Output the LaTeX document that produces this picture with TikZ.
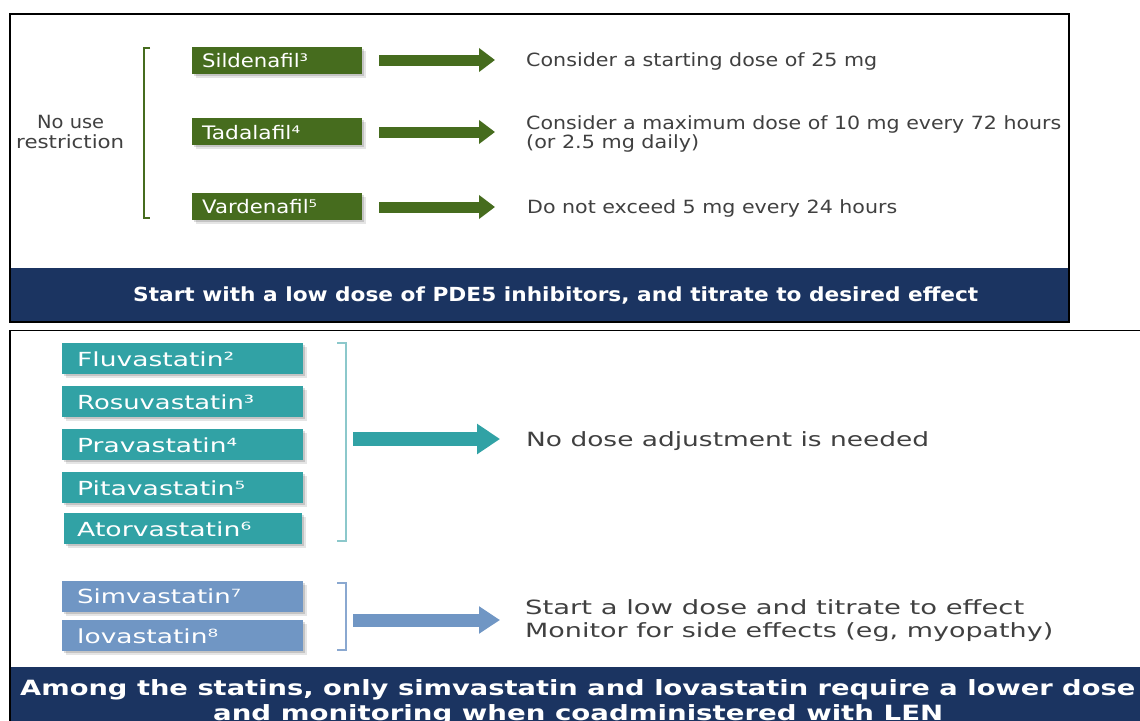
\documentclass[tikz,border=0pt]{standalone}
\usepackage{fontspec}
\setmainfont{DejaVu Sans}
\usepackage{graphicx}
\usetikzlibrary{arrows.meta}
\definecolor{pgreen}{RGB}{70,108,30}
\definecolor{pteal}{RGB}{49,162,165}
\definecolor{pblue}{RGB}{112,150,196}
\definecolor{pnavy}{RGB}{27,52,97}
\definecolor{ptext}{RGB}{64,64,64}
\definecolor{lteal}{RGB}{140,200,203}
\definecolor{lblue}{RGB}{138,168,208}
\newcommand\fw[2]{\resizebox{#1pt}{\height}{#2}}
\begin{document}
\begin{tikzpicture}[x=1pt,y=-1pt,
  boxbase/.style={anchor=north west, inner sep=0pt, outer sep=0pt,
    preaction={fill=black, opacity=0.10, transform canvas={shift={(3.5pt,-3.5pt)}}},
    preaction={fill=black, opacity=0.14, transform canvas={shift={(2pt,-2pt)}}}},
  gbox/.style={boxbase, fill=pgreen, minimum width=170pt, minimum height=27pt},
  tbox/.style={boxbase, fill=pteal, minimum width=241pt, minimum height=31pt},
  bbox/.style={boxbase, fill=pblue, minimum width=241pt, minimum height=31pt},
  glbl/.style={anchor=base west, inner sep=0pt, text=white, font=\fontsize{18.6}{21}\selectfont},
  slbl/.style={anchor=base west, inner sep=0pt, text=white, font=\fontsize{19.4}{22}\selectfont},
  ttxt/.style={anchor=base west, inner sep=0pt, text=ptext, font=\fontsize{18.2}{20}\selectfont},
  btxt/.style={anchor=base west, inner sep=0pt, text=ptext, font=\fontsize{19.6}{22}\selectfont},
  bantxt/.style={anchor=base west, inner sep=0pt, text=white},
  garrow/.style={draw=pgreen, line width=11pt, -{Triangle[width=23pt,length=16pt]}},
  tarrow/.style={draw=pteal, line width=14pt, -{Triangle[width=29pt,length=23pt]}},
  barrow/.style={draw=pblue, line width=13pt, -{Triangle[width=26pt,length=21pt]}},
  brk/.style={line width=1.6pt}
]
\useasboundingbox (0,0) rectangle (1140,720);
\fill[white] (0,0) rectangle (1140,720);

% ---------- top panel ----------
\fill[pnavy] (10,268) rectangle (1069,322);
\draw[black, line width=1.5pt] (10,14) rectangle (1069,322);

\node[ttxt] (nouse) at (37,128) {\fw{67}{No use}};
\node[ttxt] (restr) at (16,148) {\fw{108}{restriction}};
\draw[brk, pgreen] (150,48) -- (144,48) -- (144,218) -- (150,218);

\node[gbox] (bs) at (192,47) {};
\node[gbox] (bt) at (192,118) {};
\node[gbox] (bv) at (192,193) {};
\node[glbl] (ls) at (202,67.5) {\fw{106}{Sildenafil³}};
\node[glbl] (lt) at (202,139) {\fw{98}{Tadalafil⁴}};
\node[glbl] (lv) at (202,213) {\fw{115}{Vardenafil⁵}};

\coordinate (a1s) at (379,60);  \coordinate (a1e) at (495,60);
\coordinate (a2s) at (379,132); \coordinate (a2e) at (495,132);
\coordinate (a3s) at (379,207); \coordinate (a3e) at (495,207);
\draw[garrow] (a1s) -- (a1e);
\draw[garrow] (a2s) -- (a2e);
\draw[garrow] (a3s) -- (a3e);

\node[ttxt] (r1) at (526,66.5) {\fw{351}{Consider a starting dose of 25 mg}};
\node[ttxt] (r2a) at (526,129) {\fw{535}{Consider a maximum dose of 10 mg every 72 hours}};
\node[ttxt] (r2b) at (526,148) {\fw{173}{(or 2.5 mg daily)}};
\node[ttxt] (r3) at (527,213) {\fw{370}{Do not exceed 5 mg every 24 hours}};

\node[bantxt, font=\bfseries\fontsize{19.4}{22}\selectfont] (ban1) at (133,301.5)
  {\fw{845}{Start with a low dose of PDE5 inhibitors, and titrate to desired effect}};

% ---------- bottom panel ----------
\fill[pnavy] (10,667) rectangle (1140,721);
\draw[black, line width=1.5pt] (1141,330.5) -- (10,330.5) -- (10,721);

\node[tbox] (bf) at (62,343) {};
\node[tbox] (br) at (62,386) {};
\node[tbox] (bp) at (62,429) {};
\node[tbox] (bpi) at (62,472) {};
\node[tbox, minimum width=238pt] (ba) at (64,513) {};
\node[bbox] (bsi) at (62,581) {};
\node[bbox] (blo) at (62,620) {};

\node[slbl] (lf) at (77,366) {\fw{157}{Fluvastatin²}};
\node[slbl] (lr) at (77,409) {\fw{177}{Rosuvastatin³}};
\node[slbl] (lp) at (77,452) {\fw{160}{Pravastatin⁴}};
\node[slbl] (lpi) at (77,495) {\fw{168}{Pitavastatin⁵}};
\node[slbl] (la) at (77,536) {\fw{174}{Atorvastatin⁶}};
\node[slbl] (lsi) at (77,603) {\fw{164}{Simvastatin⁷}};
\node[slbl] (llo) at (77,643) {\fw{141}{lovastatin⁸}};

\draw[brk, lteal] (337,343) -- (346,343) -- (346,541) -- (337,541);
\draw[brk, lblue] (337,583) -- (346,583) -- (346,650) -- (337,650);

\coordinate (b1s) at (353,439); \coordinate (b1e) at (500,439);
\coordinate (b2s) at (353,620); \coordinate (b2e) at (500,620);
\draw[tarrow] (b1s) -- (b1e);
\draw[barrow] (b2s) -- (b2e);

\node[btxt] (nd) at (526,446.5) {\fw{403}{No dose adjustment is needed}};
\node[btxt] (sl) at (525,614) {\fw{499}{Start a low dose and titrate to effect}};
\node[btxt] (mo) at (525,637) {\fw{528}{Monitor for side effects (eg, myopathy)}};

\node[bantxt, font=\bfseries\fontsize{21}{24}\selectfont] (ban2a) at (20,695)
  {\fw{1115}{Among the statins, only simvastatin and lovastatin require a lower dose}};
\node[bantxt, font=\bfseries\fontsize{21}{24}\selectfont] (ban2b) at (213,720)
  {\fw{730}{and monitoring when coadministered with LEN}};
\end{tikzpicture}
\end{document}
